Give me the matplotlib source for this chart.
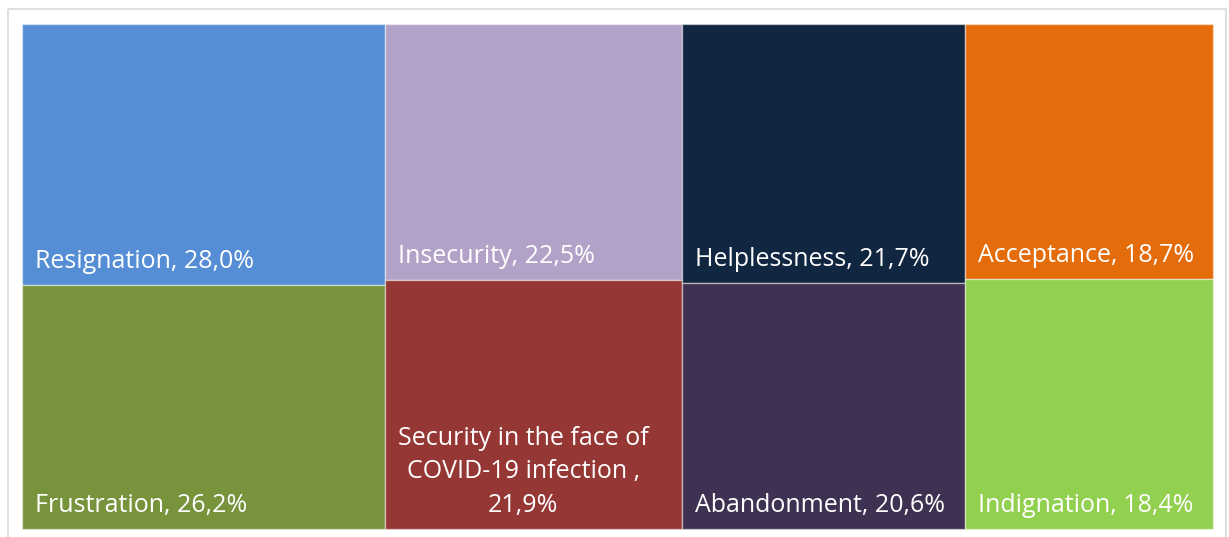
import matplotlib.pyplot as plt
from matplotlib.patches import Rectangle

# Emotions reported, share of respondents (%), grouped in treemap columns
labels = [
    "Resignation", "Frustration",
    "Insecurity", "Security in the face of\nCOVID-19 infection ,",
    "Helplessness", "Abandonment",
    "Acceptance", "Indignation",
]
values = [28.0, 26.2, 22.5, 21.9, 21.7, 20.6, 18.7, 18.4]
colors = [
    "#558ED5", "#77933C",
    "#B3A2C7", "#953735",
    "#112640", "#3F3151",
    "#E46C0A", "#92D050",
]
columns = [(0, 1), (2, 3), (4, 5), (6, 7)]

W, H = 1229, 537
X0, Y0, X1, Y1 = 22, 24, 1213, 529

fig = plt.figure(figsize=(W / 100, H / 100), dpi=100)
ax = fig.add_axes([0, 0, 1, 1])
ax.set_xlim(0, W)
ax.set_ylim(H, 0)
ax.axis("off")

# chart frame
ax.add_patch(Rectangle((7.5, 9), 1218, 540, fill=False, edgecolor="#D9D9D9", lw=1.2))

total = sum(values)
x = X0
for col in columns:
    col_sum = sum(values[i] for i in col)
    w = (X1 - X0) * col_sum / total
    y = Y0
    for i in col:
        h = (Y1 - Y0) * values[i] / col_sum
        ax.add_patch(Rectangle((x, y), w, h, facecolor=colors[i],
                               edgecolor=(1, 1, 1, 0.45), lw=1.0))
        pct = f"{values[i]:.1f}".replace(".", ",") + "%"
        if "\n" in labels[i]:
            ax.text(x + w / 2 - 10, y + h - 17, f"{labels[i]}\n{pct}",
                    ha="center", va="baseline", color="white",
                    fontsize=18, family="Open Sans", linespacing=1.45)
        else:
            ax.text(x + 13, y + h - 17, f"{labels[i]}, {pct}",
                    ha="left", va="baseline", color="white",
                    fontsize=18, family="Open Sans")
        y += h
    x += w

fig.savefig("out.png", dpi=100)
